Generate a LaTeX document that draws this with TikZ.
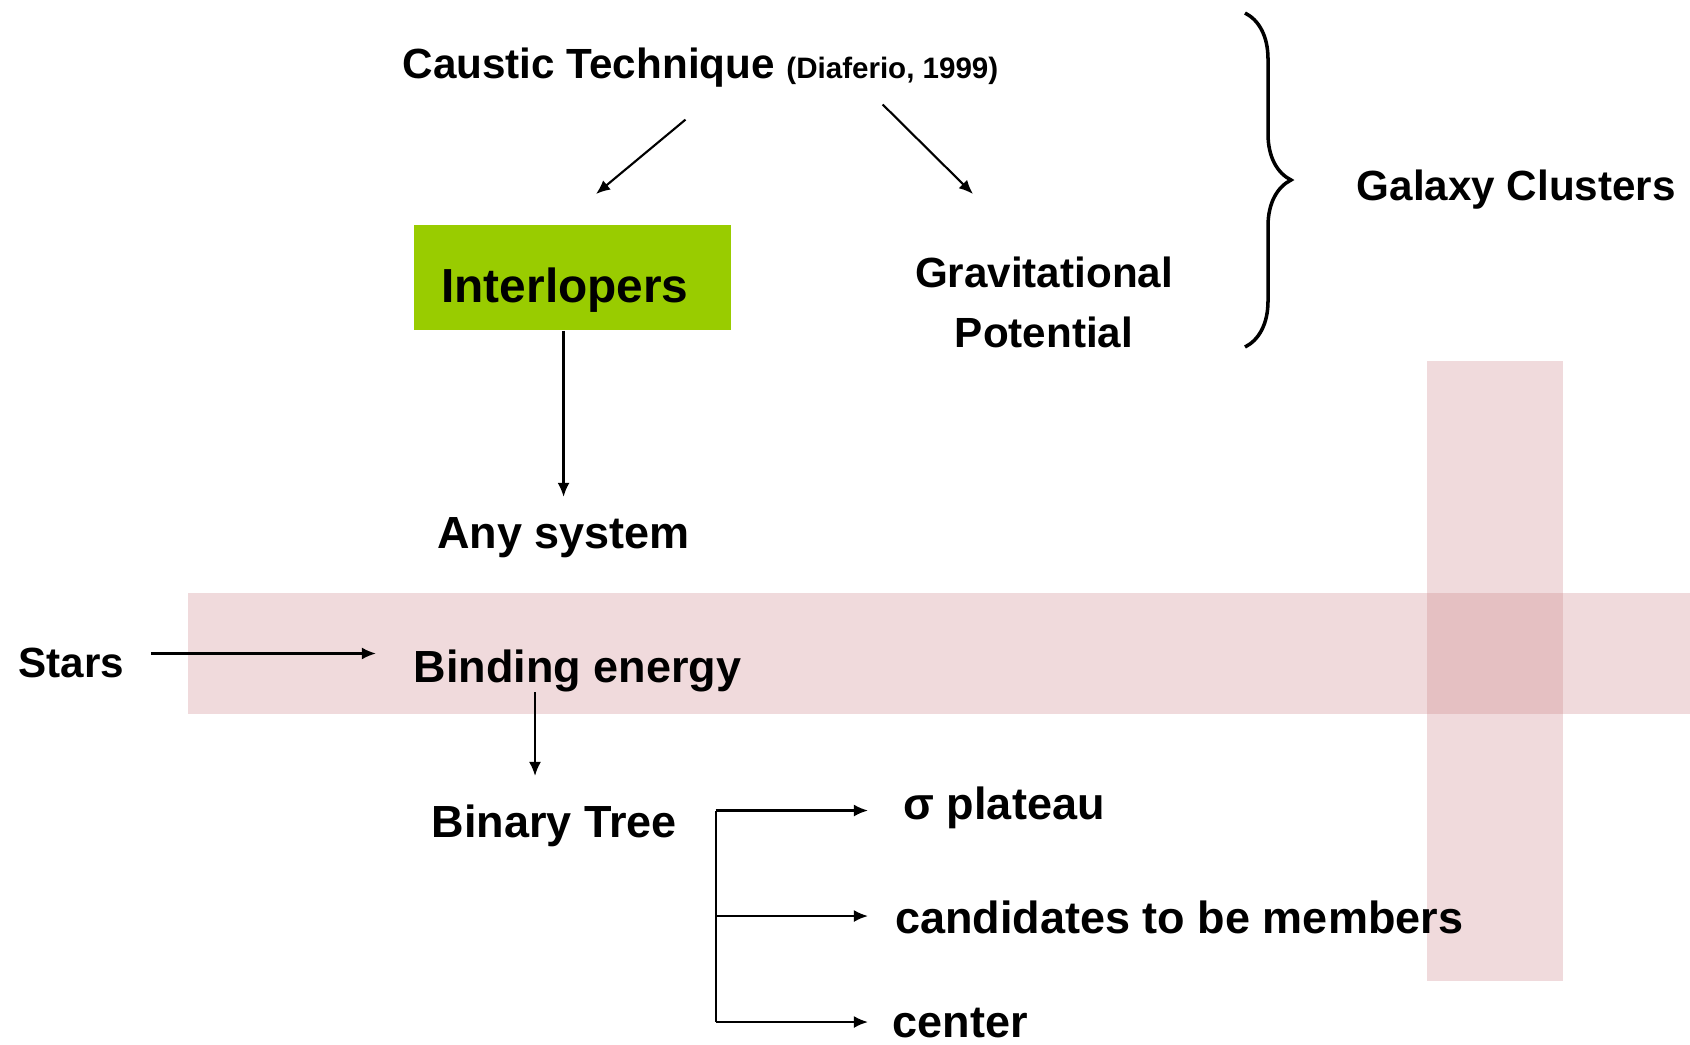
\documentclass[tikz,border=0pt]{standalone}
\usepackage{fontspec}
\setmainfont{Liberation Sans}
\usetikzlibrary{arrows.meta, decorations.pathreplacing}
\definecolor{boxgreen}{HTML}{99CC00}
\definecolor{bandpink}{RGB}{200,120,125}

\begin{document}
\begin{tikzpicture}[x=0.01cm, y=-0.01cm]
	\tikzstyle{Label} = [anchor=base west, inner sep=0pt, font=\bfseries\fontsize{12.8}{15}\selectfont]
	\tikzstyle{Head} = [Label, font=\bfseries\fontsize{12}{17.07}\selectfont]
	\tikzstyle{Box} = [rectangle, minimum width=3.17cm, minimum height=1.05cm, inner sep=0pt, text height=0.5cm, text depth=0pt, fill=boxgreen, font=\bfseries\fontsize{13.6}{16}\selectfont]
	\tikzstyle{arrow} = [line width=0.6pt, -{Latex[length=4pt,width=3.4pt]}]
	\tikzstyle{band} = [fill=bandpink, fill opacity=0.27]
	
	\useasboundingbox (0,0) rectangle (1690,1044);
	
	% pink bands
	\fill[band] (187.5,593) rectangle (1690,713.5);
	\fill[band] (1427,361) rectangle (1563,981);
	
	\node (caustic) [Head] at (402,78) {Caustic Technique {\fontsize{8.4}{10}\selectfont (Diaferio, 1999)}};
	\node (inter) [Box] at (572.5,277.5) {Interlopers\kern0.15cm};
	\node (grav) [Head, anchor=center, align=center] at (1044,302) {Gravitational\\Potential};
	\node (galaxy) [Head] at (1356,200.5) {Galaxy Clusters};
	\node (any) [Label] at (436.5,548.6) {Any system};
	\node (stars) [Head] at (18,677) {Stars};
	\node (bind) [Label] at (413,682) {Binding energy};
	\node (binary) [Label] at (431,837.5) {Binary Tree};
	\node (plateau) [Label] at (903,819) {σ plateau};
	\node (cand) [Label] at (894.6,933) {candidates to be members};
	\node (center) [Label] at (892,1037) {center};
	
	\coordinate (ct1) at (685.5,119.6);
	\coordinate (ct2) at (596,194);
	\coordinate (ct3) at (882.7,104.5);
	\coordinate (ct4) at (973,194);
	\draw[arrow] (ct1) -- (ct2);
	\draw[arrow] (ct3) -- (ct4);
	
	\draw[arrow, shorten >=0.2cm] (any |- inter.south) -- (any.north);
	\draw[arrow, shorten <=0.26cm, shorten >=0.37cm] ([yshift=0.09cm]stars.east) -- ([yshift=0.09cm]stars.east -| bind.west);
	
	\coordinate (bt) at (535,776);
	\draw[arrow] (bind.south -| bt) -- (bt);
	
	% tree branches
	\coordinate (fork) at (715.6,810.5);
	\coordinate (m1) at (868,810.5);
	\coordinate (m2) at (868,916);
	\coordinate (m3) at (868,1022);
	\draw[line width=0.6pt] (fork) -- (fork |- m3);
	\foreach \m in {m1,m2,m3}
		\draw[arrow] (fork |- \m) -- (\m);
	
	\draw[line width=1pt, decorate, decoration={brace, amplitude=0.46cm}] (1245,13) -- (1245,347);
\end{tikzpicture}
\end{document}
